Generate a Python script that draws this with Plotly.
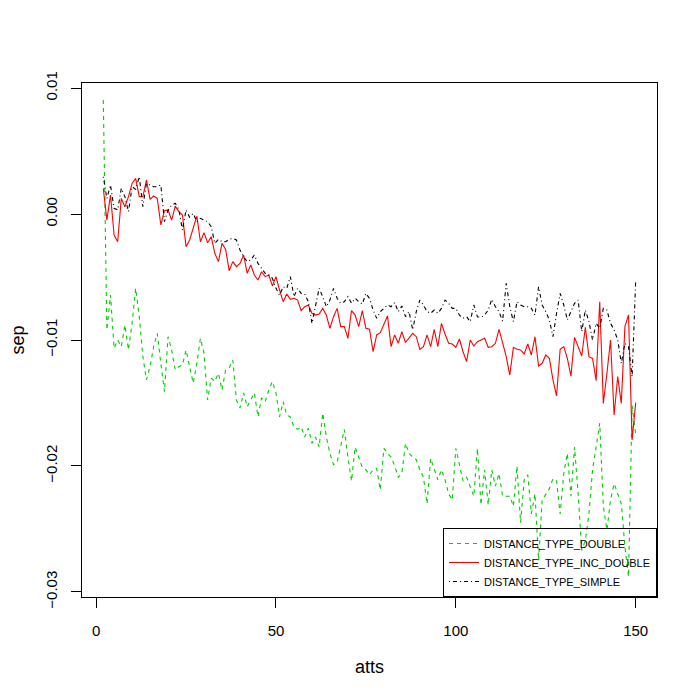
import plotly.graph_objects as go

# attribute counts on the x axis
atts = list(range(2, 151))

# sep values in units of 1e-3
sep_double_milli = [
    9.05, -9.21, -6.43, -10.66, -10.00, -10.53, -8.81, -10.79, -8.68, -5.90,
    -8.15, -11.32, -13.17, -12.12, -10.53, -9.47, -11.85, -14.10, -9.74, -10.79,
    -12.38, -12.12, -11.98, -10.79, -12.12, -13.43, -11.85, -9.87, -11.06, -14.76,
    -13.03, -13.29, -12.64, -13.97, -12.38, -12.20, -11.59, -14.76, -15.40, -14.20,
    -15.30, -14.76, -14.20, -16.10, -14.60, -14.90, -13.97, -13.30, -14.20, -16.10,
    -14.90, -15.95, -16.10, -16.90, -17.10, -16.90, -17.70, -17.00, -18.20, -17.70,
    -18.50, -15.80, -17.70, -19.00, -19.90, -19.70, -18.50, -17.10, -19.30, -21.20,
    -18.50, -19.30, -20.10, -20.30,
    -20.70, -20.30, -20.20, -21.90, -18.60, -19.00, -19.30, -20.00, -20.90, -20.60,
    -18.20, -19.00, -19.30, -19.50, -20.30, -20.90, -23.00, -19.40, -20.30, -21.10,
    -20.30, -21.10, -22.20, -22.70, -18.60, -19.80, -21.20, -20.90, -21.60, -22.40,
    -18.60, -23.10, -20.30, -23.10, -20.30, -21.60, -20.60, -22.40,
    -22.40, -22.40, -23.20, -20.00, -24.50, -21.10, -20.70, -23.80, -22.20, -27.50,
    -22.70, -22.30, -21.80, -21.00, -21.20, -23.80, -20.60, -19.00, -22.40, -18.50,
    -22.20, -26.70, -25.90, -23.80, -20.30, -18.50, -16.60, -23.20, -25.10, -22.70,
    -21.40, -22.20, -23.00, -26.40, -28.80, -15.20, -17.50,
]

sep_inc_double_milli = [
    2.04, -0.48, 1.51, -1.67, -2.20, 1.24, 0.58, 1.38, 2.43, 2.83,
    1.38, 1.38, 2.70, 1.16, 1.43, 1.24, -0.87, 0.26, 0.32, -0.48,
    0.63, 0.19, -0.07, -2.59, -2.06, -1.01, -0.16, -2.20, -1.48, -2.28,
    -1.80, -3.12, -3.78, -2.33, -2.81, -4.50,
    -3.78, -4.18, -3.92, -3.25, -4.71, -4.05, -4.84, -5.24, -4.58, -4.97,
    -4.84, -5.71, -4.97, -6.03, -6.96, -6.35, -6.77, -6.69, -6.83, -7.67,
    -7.36, -7.22, -7.88, -8.02, -7.94, -7.49, -8.02, -9.07, -8.15, -7.49,
    -8.94, -8.94, -9.87, -7.67, -8.02, -8.94, -7.67, -9.07,
    -9.15, -10.93, -9.60, -9.42, -8.81, -8.10, -10.53, -9.60, -10.26, -9.34,
    -10.20, -9.79, -9.47, -9.74, -10.74, -10.53, -9.60, -10.53, -9.15, -10.53,
    -8.68, -9.52, -10.26, -10.32, -10.58, -9.92, -10.93, -11.72, -10.00, -10.48,
    -10.13, -10.00, -9.87, -10.58, -10.53, -10.26, -9.15, -10.20,
    -11.32, -12.78, -10.58, -10.74, -10.79, -11.11, -10.32, -11.19, -9.74, -12.06,
    -11.85, -11.19, -11.46, -13.17, -14.44, -10.74, -10.53, -11.46, -12.86, -9.79,
    -10.48, -11.27, -8.99, -11.32, -11.46, -13.23, -6.96, -15.03, -12.65, -10.00,
    -15.95, -12.91, -15.03, -8.94, -8.00, -17.94, -14.97,
]

sep_simple_milli = [
    2.96, 1.24, 2.30, 0.45, 0.32, 2.04, 1.38, 0.19, 2.17, 1.96,
    2.96, 0.58, 2.43, 2.30, 2.17, 2.17, 2.30, -0.61, 0.32, 0.71,
    0.85, 0.37, -1.27, 0.32, -0.26, 0.05, -0.61, -0.34, -0.48, -0.61,
    -1.00, -2.33, -2.01, -2.20, -2.20, -2.00,
    -1.93, -2.06, -2.86, -3.39, -3.78, -3.65, -3.25, -3.92, -4.31, -4.71,
    -4.84, -5.10, -5.90, -6.43, -5.77, -5.90, -4.97, -6.56, -5.90, -6.30,
    -6.35, -6.96, -8.68, -7.36, -5.90, -6.56, -7.36, -6.83, -5.90, -6.69,
    -7.09, -6.96, -6.56, -7.09, -6.69, -6.96, -7.14, -6.30,
    -6.70, -7.62, -8.28, -7.75, -7.49, -7.22, -7.36, -7.04, -7.75, -7.30,
    -8.15, -7.75, -9.20, -7.75, -6.83, -7.22, -7.75, -7.88, -7.62, -7.88,
    -7.49, -6.83, -7.09, -7.49, -7.49, -8.02, -8.28, -8.15, -8.54, -7.22,
    -8.15, -8.20, -8.02, -7.62, -6.77, -7.36, -7.75, -8.50,
    -5.50, -7.36, -8.54, -6.96, -7.22, -7.36, -7.36, -7.49, -8.02, -5.77,
    -7.22, -7.75, -8.41, -9.74, -7.88, -6.30, -7.22, -8.41, -7.75, -7.09,
    -6.83, -9.34, -7.62, -8.54, -10.00, -8.68, -9.07, -7.49, -7.62, -8.68,
    -9.20, -10.00, -11.85, -10.26, -10.53, -12.91, -5.24,
]

y_tick_vals = [0.01, 0.0, -0.01, -0.02, -0.03]
y_tick_text = ["0.01", "0.00", "\u22120.01", "\u22120.02", "\u22120.03"]
x_tick_vals = [0, 50, 100, 150]

FONT = "Liberation Sans, Arial, sans-serif"

series = [
    ("DISTANCE_TYPE_DOUBLE", sep_double_milli, "#00CD00", "4px,4px"),
    ("DISTANCE_TYPE_INC_DOUBLE", sep_inc_double_milli, "#FF0000", "solid"),
    ("DISTANCE_TYPE_SIMPLE", sep_simple_milli, "#000000", "1px,3px,4px,3px"),
]

fig = go.Figure()
for name, vals, color, dash in series:
    fig.add_trace(go.Scatter(
        x=atts, y=[v / 1000 for v in vals], mode="lines", name=name,
        line=dict(color=color, width=1.1, dash=dash),
    ))

axis_common = dict(
    showgrid=False, zeroline=False, showline=True, linecolor="black",
    linewidth=1, mirror=True, ticks="outside", ticklen=10, tickwidth=1,
    tickcolor="black", tickfont=dict(family=FONT, size=15, color="black"),
    automargin=False,
)

# the page body adds an 8px offset, so the figure is 692 square
fig.update_layout(
    width=692, height=692,
    margin=dict(l=74, r=43, t=75, b=103),
    paper_bgcolor="white", plot_bgcolor="white",
    font=dict(family=FONT, size=15, color="black"),
    xaxis=dict(range=[-3.92, 155.92], tickvals=x_tick_vals,
               ticklabelstandoff=10,
               title=dict(text="atts", standoff=22), **axis_common),
    yaxis=dict(range=[-0.0304, 0.0104], tickvals=y_tick_vals, ticktext=y_tick_text,
               tickangle=-90, ticklabelstandoff=8,
               title=dict(text="sep", standoff=18), **axis_common),
    legend=dict(x=1, y=0, xanchor="right", yanchor="bottom",
                bgcolor="rgba(0,0,0,0)", bordercolor="black", borderwidth=1,
                font=dict(family=FONT, size=11, color="black"),
                tracegroupgap=0, itemwidth=30),
    showlegend=True,
)

fig.write_html("out.html")
